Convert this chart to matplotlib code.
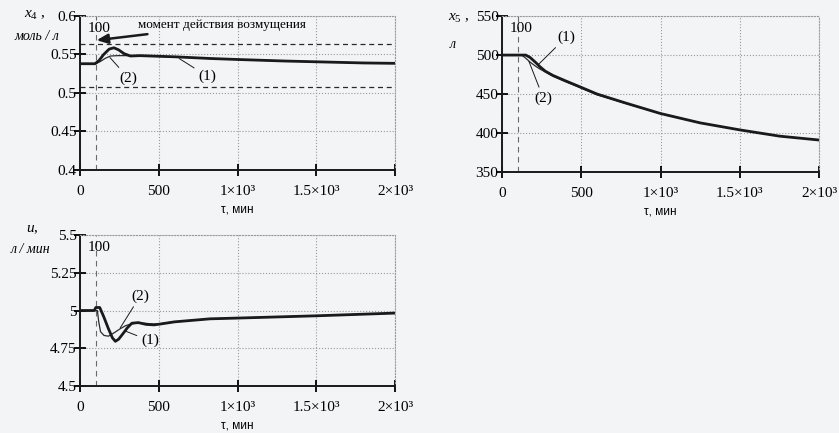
import matplotlib.pyplot as plt

plt.rcParams["mathtext.fontset"] = "custom"
plt.rcParams["mathtext.rm"] = "Liberation Serif"
plt.rcParams["mathtext.it"] = "Liberation Serif:italic"

BG = "#f2f4f5"
SERIF = "Liberation Serif"

tau_ticks = [0, 500, 1000, 1500, 2000]
tau_tick_labels = ["0", "500", "1×10³", "1.5×10³", "2×10³"]
disturbance_tau = 100

# x4, mol/l
x4_tau_1 = [0, 95, 120, 150, 185, 215, 245, 280, 320, 380, 450, 600, 825, 1000, 1300, 1500, 1800, 2000]
x4_val_1 = [0.538, 0.538, 0.542, 0.550, 0.557, 0.5587, 0.556, 0.551, 0.548, 0.5485, 0.548, 0.547, 0.5448, 0.5435, 0.5415, 0.5405, 0.539, 0.5385]
x4_tau_2 = [0, 100, 130, 160, 193, 240, 300, 380, 450, 600, 825, 1000, 1300, 1500, 1800, 2000]
x4_val_2 = [0.538, 0.538, 0.541, 0.545, 0.548, 0.5485, 0.5485, 0.548, 0.5478, 0.5468, 0.5448, 0.5435, 0.5415, 0.5405, 0.539, 0.5385]
x4_band = [0.563, 0.508]

# x5, l
x5_tau_1 = [0, 150, 177, 210, 240, 272, 320, 400, 483, 600, 778, 1000, 1250, 1500, 1750, 2000]
x5_val_1 = [500, 500, 497, 491, 485, 479.5, 474, 467, 460, 450, 438.6, 425, 413, 404, 396, 391]
x5_tau_2 = [0, 125, 150, 177, 210, 240, 272, 320, 400, 483, 600, 778, 1000, 1250, 1500, 1750, 2000]
x5_val_2 = [500, 500, 496, 491, 486, 482, 478.5, 473, 466, 459, 449, 438, 425, 413, 404, 396, 391]

# u, l/min
u_tau_1 = [0, 90, 100, 125, 150, 180, 205, 224, 245, 275, 300, 329, 370, 420, 470, 506, 600, 825, 1000, 1500, 2000]
u_val_1 = [5.0, 5.0, 5.02, 5.02, 4.96, 4.88, 4.82, 4.796, 4.81, 4.85, 4.885, 4.916, 4.92, 4.908, 4.905, 4.91, 4.925, 4.945, 4.95, 4.965, 4.983]
u_tau_2 = [0, 110, 118, 130, 152, 180, 220, 256, 290, 329, 370, 420, 470, 506, 600, 825, 1000, 1500, 2000]
u_val_2 = [5.0, 5.0, 4.93, 4.86, 4.835, 4.83, 4.855, 4.88, 4.90, 4.912, 4.918, 4.915, 4.91, 4.912, 4.925, 4.945, 4.95, 4.965, 4.983]


def style_axis(ax, ylim, yticks, ytick_labels):
    ax.set_facecolor(BG)
    ax.set_xlim(0, 2000)
    ax.set_ylim(*ylim)
    ax.set_xticks(tau_ticks)
    ax.set_xticklabels(tau_tick_labels, family=SERIF, fontsize=11)
    ax.set_yticks(yticks)
    ax.set_yticklabels(ytick_labels, family=SERIF, fontsize=11)
    ax.grid(True, linestyle=":", color="#9a9a9a", linewidth=0.8)
    for side in ["top", "right"]:
        ax.spines[side].set_linestyle(":")
        ax.spines[side].set_color("#9a9a9a")
        ax.spines[side].set_linewidth(0.8)
    for side in ["left", "bottom"]:
        ax.spines[side].set_linewidth(1.4)
        ax.spines[side].set_color("#1a1a1a")
    ax.tick_params(axis="x", direction="inout", length=8, width=1.3, pad=7)
    ax.tick_params(axis="y", direction="inout", length=8, width=1.3, pad=-1.5)
    ax.axvline(disturbance_tau, color="#6a6a6a", linestyle=(0, (5, 4)), linewidth=0.8)
    ax.annotate("100", xy=(disturbance_tau, ylim[1]), xytext=(-6, -4), textcoords="offset points",
                ha="left", va="top", family=SERIF, fontsize=11)
    ax.set_xlabel("τ, мин", family="Liberation Sans", fontsize=8.5, labelpad=4)


def label(ax, text, xy, xytext):
    ax.annotate(text, xy=xy, xytext=xytext, ha="center", va="center", family=SERIF, fontsize=11,
                arrowprops=dict(arrowstyle="-", color="#1a1a1a", lw=0.7, shrinkA=1, shrinkB=0))


fig = plt.figure(figsize=(8.39, 4.33), dpi=100, facecolor=BG)
ax1 = fig.add_axes([0.0954, 0.6074, 0.3755, 0.3557])
ax2 = fig.add_axes([0.5983, 0.6028, 0.378, 0.360])
ax3 = fig.add_axes([0.0954, 0.1085, 0.3755, 0.3487])

# x4
style_axis(ax1, (0.4, 0.6), [0.4, 0.45, 0.5, 0.55, 0.6], ["0.4", "0.45", "0.5", "0.55", "0.6"])
for level in x4_band:
    ax1.axhline(level, color="#2a2a2a", linestyle=(0, (4, 3)), linewidth=0.9)
ax1.plot(x4_tau_2, x4_val_2, color="#2a2a2a", linewidth=0.9)
ax1.plot(x4_tau_1, x4_val_1, color="#1a1a1a", linewidth=2.0)
label(ax1, "(2)", (190, 0.546), (306, 0.5195))
label(ax1, "(1)", (630, 0.5447), (806, 0.522))
ax1.annotate("момент действия возмущения", xy=(105, 0.5685), xytext=(370, 0.588),
             ha="left", va="center", family=SERIF, fontsize=9.5,
             arrowprops=dict(arrowstyle="-|>,head_length=0.7,head_width=0.3", color="#1a1a1a", lw=1.8,
                             shrinkA=1, shrinkB=0))

# x5
style_axis(ax2, (350, 550), [350, 400, 450, 500, 550], ["350", "400", "450", "500", "550"])
ax2.plot(x5_tau_2, x5_val_2, color="#2a2a2a", linewidth=0.9)
ax2.plot(x5_tau_1, x5_val_1, color="#1a1a1a", linewidth=2.0)
label(ax2, "(1)", (225, 487), (405, 523))
label(ax2, "(2)", (170, 492), (260, 445))

# u
style_axis(ax3, (4.5, 5.5), [4.5, 4.75, 5.0, 5.25, 5.5], ["4.5", "4.75", "5", "5.25", "5.5"])
ax3.plot(u_tau_2, u_val_2, color="#2a2a2a", linewidth=0.9)
ax3.plot(u_tau_1, u_val_1, color="#1a1a1a", linewidth=2.0)
label(ax3, "(2)", (255, 4.885), (382, 5.096))
label(ax3, "(1)", (285, 4.865), (443, 4.80))

# axis captions
fig.text(35 / 839, 1 - 15 / 433, r"$x_{4}$ ,", family=SERIF, fontsize=11, ha="center", va="center")
fig.text(37 / 839, 1 - 36 / 433, "моль / л", family=SERIF, style="italic", fontsize=10, ha="center", va="center")
fig.text(459 / 839, 1 - 18 / 433, r"$x_{5}$ ,", family=SERIF, fontsize=11, ha="center", va="center")
fig.text(453 / 839, 1 - 44 / 433, "л", family=SERIF, style="italic", fontsize=10, ha="center", va="center")
fig.text(32 / 839, 1 - 230 / 433, r"$u$,", family=SERIF, fontsize=11, ha="center", va="center")
fig.text(30 / 839, 1 - 250 / 433, "л / мин", family=SERIF, style="italic", fontsize=10, ha="center", va="center")

fig.savefig("out.png", dpi=100, facecolor=BG)
